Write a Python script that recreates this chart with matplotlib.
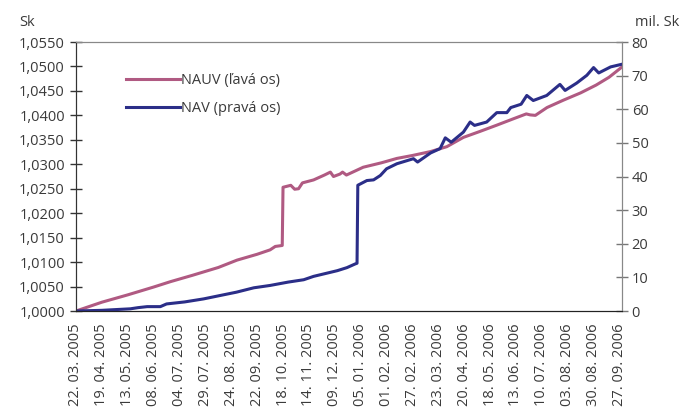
import matplotlib
matplotlib.use('Agg')
import matplotlib.pyplot as plt
from matplotlib.ticker import FuncFormatter, MultipleLocator

plt.rcParams['font.family'] = ['Open Sans', 'DejaVu Sans']

# tick labels (every ~19 trading days)
dates = ['22. 03. 2005', '19. 04. 2005', '13. 05. 2005', '08. 06. 2005',
         '04. 07. 2005', '29. 07. 2005', '24. 08. 2005', '22. 09. 2005',
         '18. 10. 2005', '14. 11. 2005', '09. 12. 2005', '05. 01. 2006',
         '01. 02. 2006', '27. 02. 2006', '23. 03. 2006', '20. 04. 2006',
         '18. 05. 2006', '13. 06. 2006', '10. 07. 2006', '03. 08. 2006',
         '30. 08. 2006', '27. 09. 2006']

# NAUV (left axis), x in units of the label period
nauv_t = [0, 1.0, 2.0, 3.0, 3.65, 4.5, 5.5, 6.22, 7.0, 7.5, 7.7, 7.97,
          8.0, 8.3, 8.45, 8.6, 8.75, 9.18, 9.6, 9.83, 9.95, 10.2, 10.3,
          10.45, 11.1, 11.8, 12.4, 13.0, 13.7, 14.33, 14.97, 15.6, 16.26,
          16.9, 17.4, 17.55, 17.75, 18.2, 18.83, 19.5, 20.1, 20.6, 21.1]
nauv_val = [1.0000, 1.0018, 1.0033, 1.0049, 1.0060, 1.0073, 1.0089, 1.0104,
            1.0116, 1.0125, 1.0132, 1.0134, 1.0253, 1.0257, 1.0249, 1.0250,
            1.0262, 1.0268, 1.0278, 1.0284, 1.0275, 1.0280, 1.0284, 1.0278,
            1.0294, 1.0303, 1.0312, 1.0318, 1.0326, 1.0336, 1.0355, 1.0367,
            1.0380, 1.0393, 1.0403, 1.0401, 1.0400, 1.0416, 1.0431, 1.0446,
            1.0462, 1.0478, 1.0499]

# NAV (right axis, mil. Sk)
nav_t = [0, 1.0, 2.1, 2.4, 2.75, 3.26, 3.5, 4.2, 4.93, 5.5, 6.2, 6.87, 7.5,
         8.2, 8.8, 9.18, 9.83, 10.1, 10.47, 10.79, 10.86, 10.89, 11.24, 11.5,
         11.76, 12.0, 12.4, 13.04, 13.2, 13.7, 14.07, 14.27, 14.5, 14.97,
         15.23, 15.4, 15.87, 16.26, 16.65, 16.8, 17.2, 17.42, 17.67, 18.19,
         18.7, 18.9, 19.35, 19.74, 20.0, 20.2, 20.66, 21.1]
nav_val = [0, 0.2, 0.65, 1.0, 1.3, 1.3, 2.1, 2.7, 3.6, 4.5, 5.6, 6.9, 7.6,
           8.6, 9.3, 10.3, 11.5, 12.0, 12.9, 14.0, 14.2, 37.4, 38.8, 39.0,
           40.3, 42.3, 43.8, 45.3, 44.3, 47.0, 48.3, 51.5, 50.2, 53.2,
           56.2, 55.2, 56.2, 59.0, 59.0, 60.5, 61.5, 64.1, 62.6, 64.1,
           67.4, 65.6, 67.8, 70.1, 72.4, 70.8, 72.6, 73.4]

pink = '#b05a82'
blue = '#2b2e88'
txt = '#3a3a3a'

fig = plt.figure(figsize=(6.81, 4.16), dpi=100)
ax = fig.add_axes([0.1116, 0.2524, 0.8018, 0.6466])
ax2 = ax.twinx()

l1, = ax.plot(nauv_t, nauv_val, color=pink, lw=2.2, label='NAUV (ľavá os)')
l2, = ax2.plot(nav_t, nav_val, color=blue, lw=2.2, label='NAV (pravá os)')

ax.set_xlim(0, 21.1)
ax.set_ylim(1.0, 1.055)
ax2.set_ylim(0, 80)

ax.yaxis.set_major_locator(MultipleLocator(0.005))
ax.yaxis.set_major_formatter(FuncFormatter(lambda v, p: f'{v:.4f}'.replace('.', ',')))
ax2.yaxis.set_major_locator(MultipleLocator(10))

ax.set_xticks(range(len(dates)))
ax.set_xticklabels(dates, rotation=90, va='top', ha='center')

ax.tick_params(axis='y', direction='inout', length=8, width=1, color='#333333',
               labelsize=10.5, labelcolor=txt, pad=4)
ax2.tick_params(axis='y', direction='inout', length=8, width=1, color='#777777',
                labelsize=10.5, labelcolor=txt, pad=3)
ax.tick_params(axis='x', length=0, labelsize=10.5, labelcolor=txt, pad=9)

for a in (ax, ax2):
    a.spines['top'].set_color('#888888')
    a.spines['right'].set_color('#888888')
    a.spines['left'].set_color('#333333')
    a.spines['bottom'].set_color('#222222')

fig.text(0.028, 0.945, 'Sk', fontsize=10.5, color=txt, va='center')
fig.text(0.932, 0.945, 'mil. Sk', fontsize=10.5, color=txt, va='center')

ax2.legend(handles=[l1, l2], loc='upper left', bbox_to_anchor=(0.176, 0.838),
           bbox_transform=fig.transFigure, frameon=False, fontsize=10.5,
           handlelength=3.7, handletextpad=0.1, labelspacing=0.85,
           labelcolor=txt, borderaxespad=0)

fig.savefig('out.png', dpi=100)
